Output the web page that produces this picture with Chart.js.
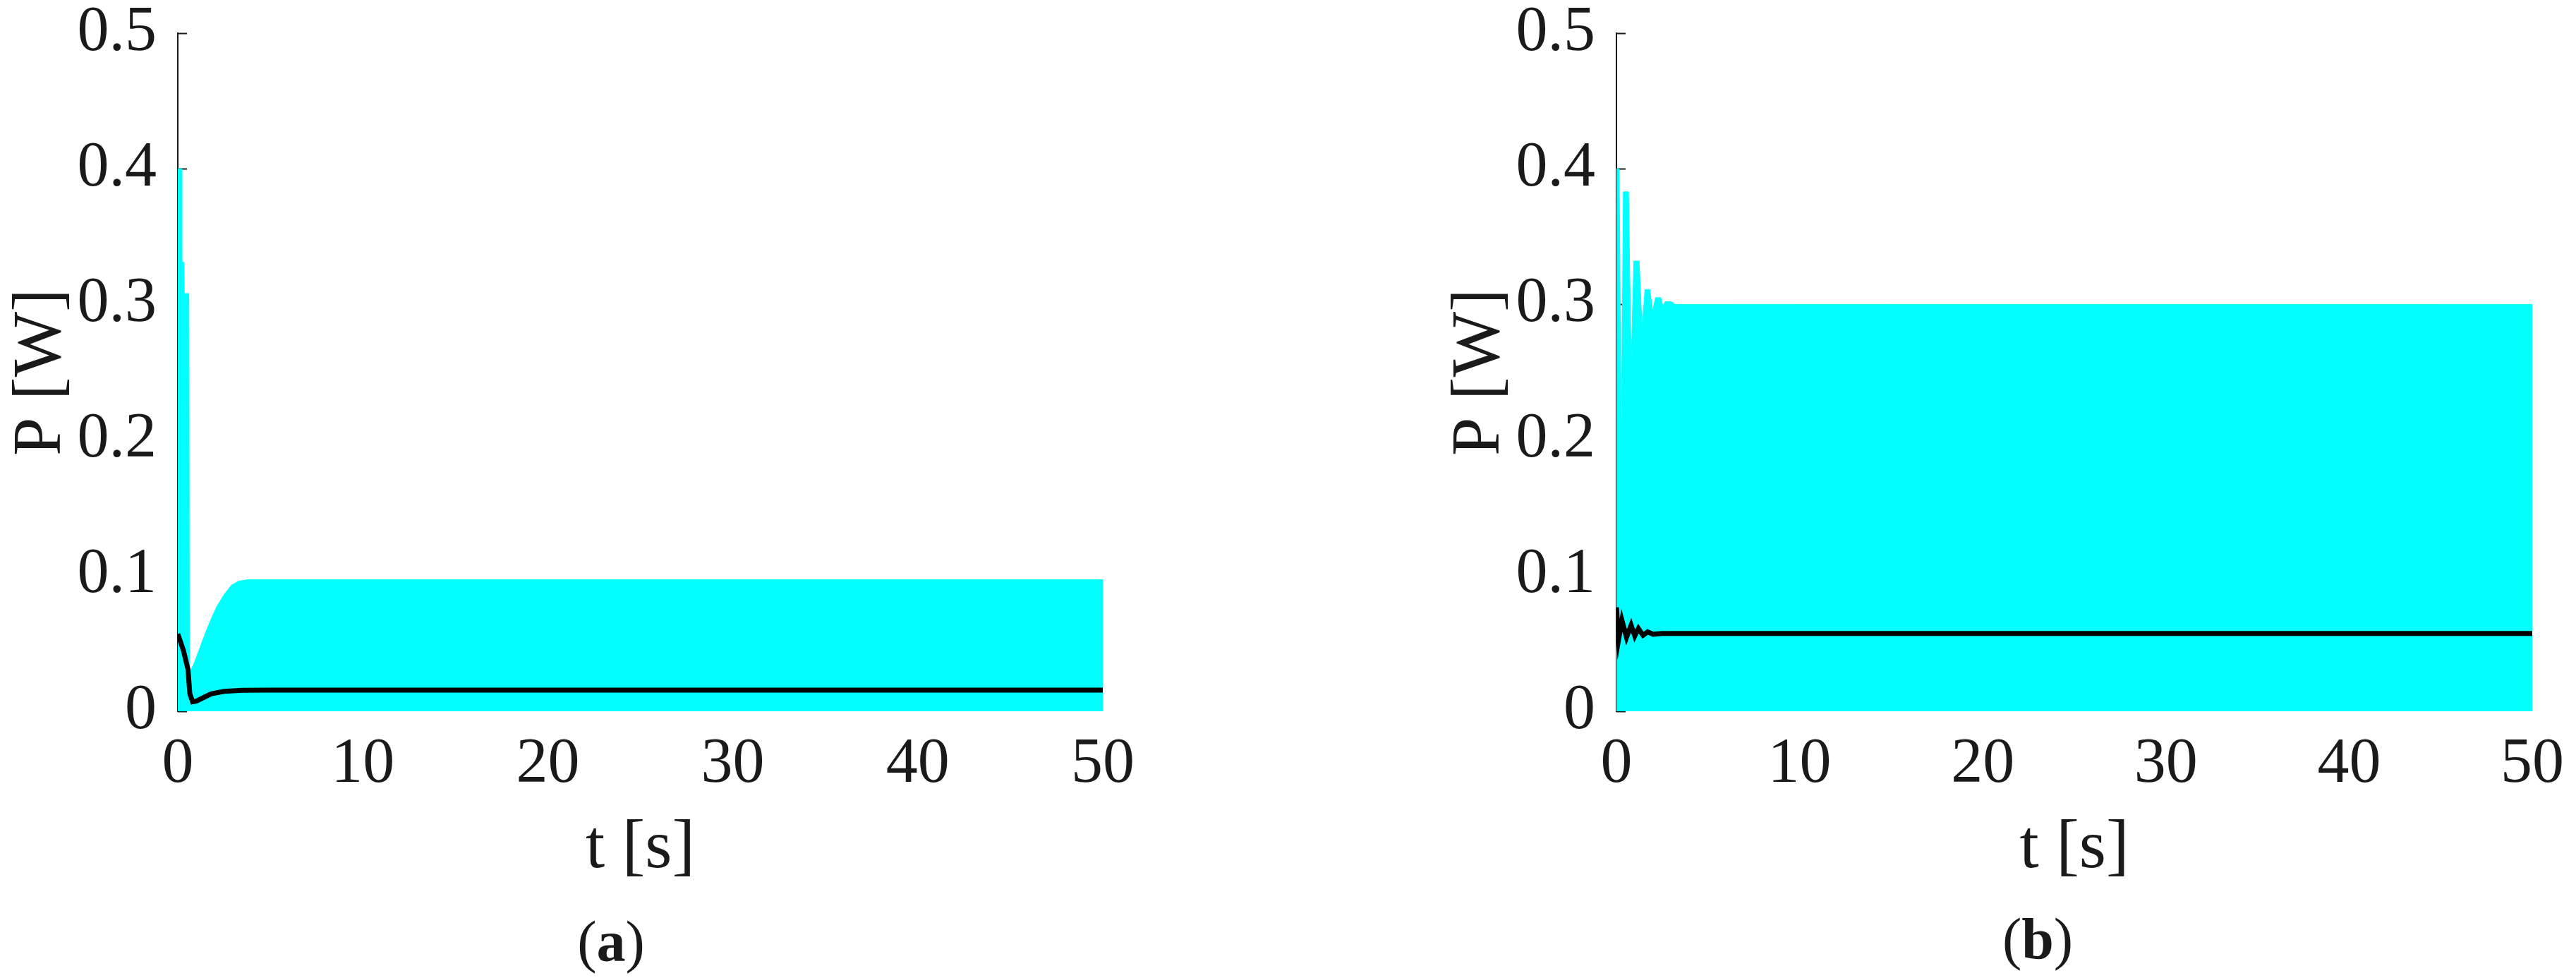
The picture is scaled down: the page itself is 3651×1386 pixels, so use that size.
<!DOCTYPE html>
<html>
<head>
<meta charset="utf-8">
<script src="https://cdn.jsdelivr.net/npm/chart.js@4.4.1/dist/chart.umd.min.js"></script>
<style>
  body { margin: 0; background: #fff; width: 3651px; height: 1386px; overflow: hidden; position: relative; }
  canvas { position: absolute; top: 0; }
  .cap { position: absolute; font-family: 'Liberation Serif', serif; font-size: 82px; line-height: 1; color: #1a1a1a; transform: translate(-50%, -50%); }
</style>
</head>
<body>
<canvas id="chartA" width="1800" height="1386" style="left:0px"></canvas>
<canvas id="chartB" width="1612" height="1386" style="left:2039px"></canvas>
<div class="cap" style="left:866px; top:1335px">(<b>a</b>)</div>
<div class="cap" style="left:2888px; top:1331px">(<b>b</b>)</div>
<script>
// axis ticks
const xTicks = [0, 10, 20, 30, 40, 50];
const yTicks = [0, 0.1, 0.2, 0.3, 0.4, 0.5];

// (a) instantaneous power envelope (cyan) and mean power (black)
const tEnvA = [0, 0.2, 0.22, 0.33, 0.35, 0.6, 0.63, 0.9, 1.2, 1.5, 1.8, 2.1, 2.5, 2.9, 3.3, 3.8, 50];
const pEnvA = [0.400, 0.400, 0.331, 0.331, 0.308, 0.308, 0.028, 0.036, 0.047, 0.058, 0.068, 0.077, 0.086, 0.093, 0.096, 0.097, 0.097];
const tAvgA = [0, 0.3, 0.55, 0.65, 0.8, 1.0, 1.3, 1.8, 2.5, 3.5, 5, 50];
const pAvgA = [0.057, 0.045, 0.031, 0.013, 0.007, 0.0075, 0.0095, 0.0128, 0.0147, 0.0155, 0.0156, 0.0156];

// (b)
const tEnvB = [0, 0.15, 0.26, 0.38, 0.66, 0.8, 0.95, 1.24, 1.4, 1.56, 1.82, 1.98, 2.13, 2.42, 2.55, 2.65, 3.0, 3.2, 50];
const pEnvB = [0.400, 0.400, 0.190, 0.383, 0.383, 0.254, 0.332, 0.332, 0.282, 0.311, 0.311, 0.295, 0.305, 0.305, 0.298, 0.302, 0.302, 0.300, 0.300];
const tAvgB = [0, 0.12, 0.3, 0.55, 0.8, 1.0, 1.2, 1.45, 1.7, 2.0, 2.5, 50];
const pAvgB = [0.0766, 0.053, 0.067, 0.0545, 0.0635, 0.0555, 0.061, 0.056, 0.0585, 0.0568, 0.0573, 0.0573];

const ink = '#1a1a1a';
const serif = 'Liberation Serif';

// small inward tick marks on the y axis, drawn under the data
const innerTicks = {
  id: 'innerTicks',
  beforeDatasetsDraw(chart) {
    const ys = chart.scales.y;
    const ctx = chart.ctx;
    ctx.save();
    ctx.strokeStyle = ink;
    ctx.lineWidth = 2;
    yTicks.forEach(v => {
      const py = Math.round(ys.getPixelForValue(v)) + 0.5;
      ctx.beginPath();
      ctx.moveTo(ys.right, py);
      ctx.lineTo(ys.right + 13, py);
      ctx.stroke();
    });
    ctx.restore();
  }
};

function toPts(ts, ps) {
  return ts.map((t, i) => ({ x: t, y: ps[i] }));
}

function makeChart(id, tEnv, pEnv, tAvg, pAvg, padRight) {
  const ctx = document.getElementById(id).getContext('2d');
  return new Chart(ctx, {
    type: 'line',
    data: {
      datasets: [{
        label: 'mean',
        data: toPts(tAvg, pAvg),
        borderColor: '#000000',
        borderWidth: 7,
        pointRadius: 0,
        fill: false,
        tension: 0
      }, {
        label: 'instantaneous',
        data: toPts(tEnv, pEnv),
        borderColor: '#00ffff',
        backgroundColor: '#00ffff',
        borderWidth: 1,
        pointRadius: 0,
        fill: 'origin',
        tension: 0
      }]
    },
    options: {
      responsive: false,
      animation: false,
      devicePixelRatio: 1,
      layout: { padding: { left: 0, right: padRight, top: 47, bottom: 124 } },
      plugins: { legend: { display: false }, tooltip: { enabled: false } },
      scales: {
        x: {
          type: 'linear',
          min: 0, max: 50,
          afterBuildTicks: s => { s.ticks = xTicks.map(v => ({ value: v })); },
          afterFit: s => { s.height = 254; s.paddingLeft = 0; s.paddingRight = 0; },
          grid: { display: false, drawTicks: false },
          border: { display: false },
          ticks: { color: ink, font: { family: serif, size: 90 }, padding: 22, maxRotation: 0 },
          title: { display: true, text: 't [s]', color: ink, font: { family: serif, size: 98 }, padding: 0 }
        },
        y: {
          min: 0, max: 0.5,
          afterBuildTicks: s => { s.ticks = yTicks.map(v => ({ value: v })); },
          afterFit: s => { s.width = 252; s.paddingTop = 0; s.paddingBottom = 0; },
          grid: { display: false, drawTicks: false },
          border: { display: true, color: ink, width: 2 },
          ticks: { color: ink, font: { family: serif, size: 90 }, padding: 30 },
          title: { display: true, text: 'P [W]', color: ink, font: { family: serif, size: 98 }, padding: 0 }
        }
      }
    },
    plugins: [innerTicks]
  });
}

makeChart('chartA', tEnvA, pEnvA, tAvgA, pAvgA, 237);
makeChart('chartB', tEnvB, pEnvB, tAvgB, pAvgB, 62);
</script>
</body>
</html>
